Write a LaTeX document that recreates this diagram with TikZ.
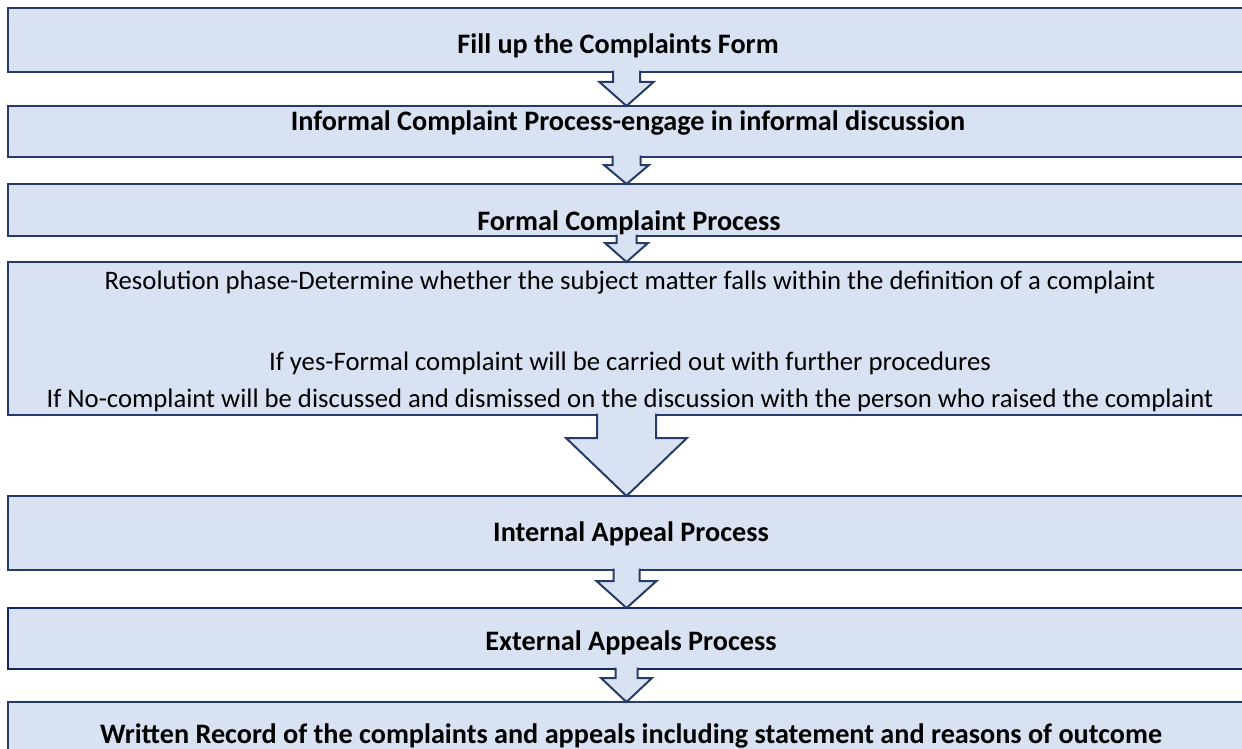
\documentclass[tikz,border=0pt]{standalone}
\usepackage{fontspec}
\setmainfont{Carlito}
\usetikzlibrary{calc}
\definecolor{boxfill}{RGB}{217,226,243}
\definecolor{boxline}{RGB}{38,60,104}
\definecolor{boxlinedark}{RGB}{16,40,100}
\tikzset{
  box/.style={draw=boxline, fill=boxfill, line width=2.4pt, rectangle, outer sep=0pt, inner sep=0pt, anchor=north west, minimum width=1246pt},
  blk/.style={draw=boxline, fill=boxfill, line width=2pt, line join=miter},
  bt/.style={anchor=base, font=\fontsize{28.2}{32}\selectfont\bfseries, inner sep=0pt},
  rt/.style={anchor=base, font=\fontsize{26.7}{32}\selectfont, inner sep=0pt},
}
% block arrow: from node #1 to node #2, shaft half width #3, head half width #4, head start below top #5
\newcommand{\blockarrow}[5]{%
  \path[blk] let \p1=(#1.south), \p2=(#2.north) in
    (626.5pt-#3pt,\y1+1.3pt) -- (626.5pt-#3pt,\y1-#5pt) -- (626.5pt-#4pt,\y1-#5pt)
    -- (626.5pt,\y2) -- (626.5pt+#4pt,\y1-#5pt) -- (626.5pt+#3pt,\y1-#5pt) -- (626.5pt+#3pt,\y1+1.3pt);}
\begin{document}
\begin{tikzpicture}[x=1pt,y=-1pt]
\useasboundingbox (0,0) rectangle (1242,749);
\begin{scope}
\clip (0,0) rectangle (1242,749);
% boxes
\node[box, minimum height=64pt] (b1) at (8,8) {};
\node[box, minimum height=51pt] (b2) at (8,106) {};
\node[box, minimum height=52pt] (b3) at (8,184) {};
\node[box, minimum height=153pt] (b4) at (8,262) {};
\node[box, minimum height=74pt] (b5) at (8,496) {};
\node[box, draw=boxlinedark, minimum height=61pt] (b6) at (8,608) {};
\node[box, minimum height=80pt] (b7) at (8,702) {};
% texts
\node[bt] (t1) at (618,54) {Fill up the Complaints Form};
\node[bt] (t2) at (628,131) {Informal Complaint Process-engage in informal discussion};
\node[bt] (t3) at (629,230) {Formal Complaint Process};
\node[rt] (t4a) at (630,289) {Resolution phase-Determine whether the subject matter falls within the definition of a complaint};
\node[rt] (t4b) at (630,370) {If yes-Formal complaint will be carried out with further procedures};
\node[rt] (t4c) at (630,407) {If No-complaint will be discussed and dismissed on the discussion with the person who raised the complaint};
\node[bt] (t5) at (631,541) {Internal Appeal Process};
\node[bt] (t6) at (631,650) {External Appeals Process};
\node[bt] (t7) at (631,743) {Written Record of the complaints and appeals including statement and reasons of outcome};
% block arrows
\blockarrow{b1}{b2}{13.5}{27}{10}
\blockarrow{b2}{b3}{14}{22.5}{8}
\blockarrow{b3}{b4}{10}{21.5}{7}
\blockarrow{b4}{b5}{29.5}{60.5}{23}
\blockarrow{b5}{b6}{13}{30}{11}
\blockarrow{b6}{b7}{11}{25.5}{9}
\end{scope}
\end{tikzpicture}
\end{document}
